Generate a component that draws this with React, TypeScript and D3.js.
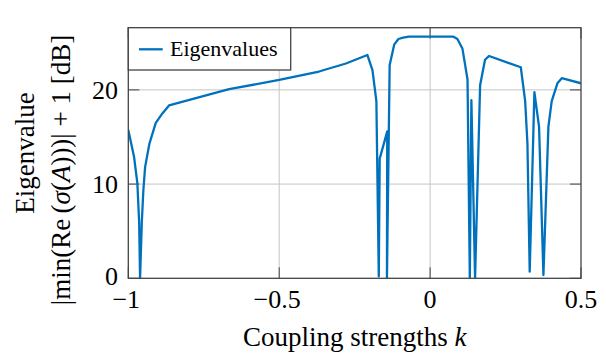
import React from "react";
import * as d3 from "d3";

const kValues = [
  -1, -0.981, -0.97, -0.964, -0.961, -0.9553, -0.95, -0.9443, -0.93, -0.909, -0.887, -0.865,
  -0.666, -0.5, -0.368, -0.279, -0.2077, -0.191, -0.178, -0.17, -0.167, -0.142, -0.143,
  -0.134, -0.119, -0.105, -0.0895, -0.07, 0.0762, 0.0905, 0.107, 0.124, 0.1316, 0.1368,
  0.149, 0.1657, 0.182, 0.1955, 0.3005, 0.315, 0.3225, 0.33, 0.3456, 0.361, 0.3755, 0.392,
  0.403, 0.4218, 0.4363, 0.5,
];
const eigenDb = [
  15.75, 12.9, 10.1, 5.9, 0, 5.9, 9.4, 11.8, 14.3, 16.5, 17.5, 18.35,
  20.07, 21.06, 21.95, 22.8, 23.7, 22.1, 18.8, 0.2, 12.7, 15.6, 0,
  22.65, 24.8, 25.4, 25.55, 25.66, 25.66, 25.4, 24.4, 21.1, 0, 18.9,
  0, 20.5, 23.2, 23.6, 22.4, 18.8, 14.3, 0.7, 19.75, 16.1, 0.35, 16.1,
  18.8, 20.7, 21.24, 20.7,
];
const xTicks = [-1, -0.5, 0, 0.5];
const xTickLabels = ["\u22121", "\u22120.5", "0", "0.5"];
const yTicks = [0, 10, 20];
const yTickLabels = ["0", "10", "20"];
const seriesName = "Eigenvalues";
const xTitle = "Coupling strengths ";
const xTitleVar = "k";

export default function App() {
  const W = 606, H = 353;
  const L = 128.3, R = 581, T = 27.7, B = 278.3;
  const x = d3.scaleLinear().domain([-1, 0.5]).range([L, R]);
  const y = d3.scaleLinear().domain([0, 26.6]).range([B, T]);
  const pts: [number, number][] = kValues.map((k, i) => [k, eigenDb[i]]);
  const line = d3.line<[number, number]>().x(d => x(d[0])).y(d => y(d[1]));
  const font = "'Liberation Serif', 'Times New Roman', serif";
  const axisCol = "#444";
  const gridCol = "#c4c4c4";
  const blue = "#0072BD";
  const tl = 11;
  return (
    <svg width={W} height={H} style={{ position: "absolute", left: 0, top: 0 }} fontFamily={font}>
      <defs>
        <clipPath id="pc"><rect x={L} y={T} width={R - L} height={B - T} /></clipPath>
      </defs>
      <rect x={0} y={0} width={W} height={H} fill="#fff" />
      {xTicks.slice(1, 3).map(t => (
        <line key={"gx" + t} x1={x(t)} x2={x(t)} y1={T} y2={B} stroke={gridCol} strokeWidth={1} />
      ))}
      {yTicks.slice(1).map(t => (
        <line key={"gy" + t} x1={L} x2={R} y1={y(t)} y2={y(t)} stroke={gridCol} strokeWidth={1} />
      ))}
      {xTicks.map(t => (
        <g key={"tx" + t}>
          <line x1={x(t)} x2={x(t)} y1={B} y2={B - tl} stroke={axisCol} strokeWidth={1} />
          <line x1={x(t)} x2={x(t)} y1={T} y2={T + tl} stroke={axisCol} strokeWidth={1} />
        </g>
      ))}
      {yTicks.map(t => (
        <g key={"ty" + t}>
          <line x1={L} x2={L + tl} y1={y(t)} y2={y(t)} stroke={axisCol} strokeWidth={1} />
          <line x1={R} x2={R - tl} y1={y(t)} y2={y(t)} stroke={axisCol} strokeWidth={1} />
        </g>
      ))}
      <path d={line(pts) || ""} fill="none" stroke={blue} strokeWidth={2.3} strokeLinejoin="round" clipPath="url(#pc)" />
      <rect x={L} y={T} width={R - L} height={B - T} fill="none" stroke={axisCol} strokeWidth={1.3} />
      {xTicks.map((t, i) => (
        <text key={"lx" + t} x={x(t) - (i === 0 ? 2 : i === 1 ? 2 : 0)} y={308} textAnchor="middle" fontSize={26}>{xTickLabels[i]}</text>
      ))}
      {yTicks.map((t, i) => (
        <text key={"ly" + t} x={118} y={y(t) - (i === 0 ? 2 : 0)} dy="0.35em" textAnchor="end" fontSize={26}>{yTickLabels[i]}</text>
      ))}
      <text x={(L + R) / 2} y={346} textAnchor="middle" fontSize={27}>
        {xTitle}<tspan fontStyle="italic">{xTitleVar}</tspan>
      </text>
      <text transform={`translate(34,153) rotate(-90)`} textAnchor="middle" fontSize={27}>Eigenvalue</text>
      <text transform={`translate(70,170) rotate(-90)`} textAnchor="middle" fontSize={27}>
        |min(Re{"\u2009"}(<tspan fontStyle="italic">σ</tspan>(<tspan fontStyle="italic">A</tspan>)))| + 1 [dB]
      </text>
      <g>
        <rect x={L} y={T} width={290.7 - L} height={70 - T} fill="#fff" stroke={axisCol} strokeWidth={1.3} />
        <line x1={139} x2={162.7} y1={49.3} y2={49.3} stroke={blue} strokeWidth={2.3} />
        <text x={170} y={56} fontSize={22}>{seriesName}</text>
      </g>
    </svg>
  );
}
